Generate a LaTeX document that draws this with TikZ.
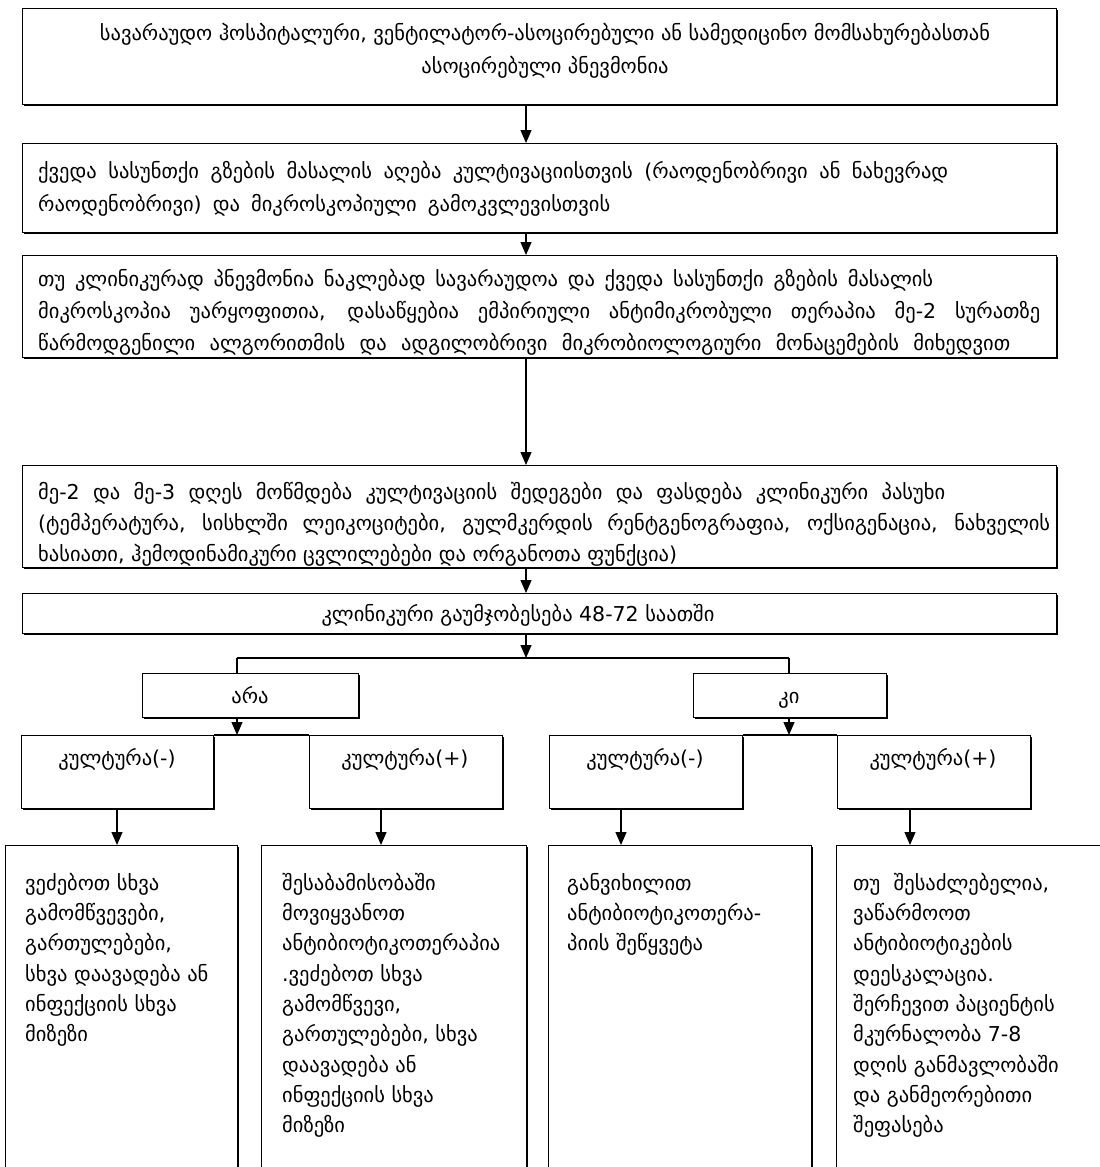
\documentclass[tikz,border=0pt]{standalone}
\usepackage{fontspec}
\newfontfamily\geo{DejaVu Sans}
\usetikzlibrary{arrows.meta,shadows}
\tikzset{
  box/.style={draw, line width=1.2pt, fill=white, inner sep=0pt, anchor=north west,
    drop shadow={shadow xshift=1.2pt, shadow yshift=-1.2pt, fill=black, opacity=1}},
  txt/.style={inner sep=0pt, anchor=north west, align=left, font=\geo\fontsize{20.5}{#1}\selectfont},
  txt/.default=30,
  ctxt/.style={txt=#1, anchor=north, align=center},
  ctxt/.default=30,
  arr/.style={line width=1.2pt, -{Triangle[width=11pt,length=13pt]}},
  ln/.style={line width=1.2pt},
}
\newcommand{\st}{\rule{0pt}{20pt}}
\newcommand{\jl}[2]{\makebox[#1pt][s]{#2}}
\begin{document}
\begin{tikzpicture}[x=1pt,y=-1pt]
\useasboundingbox (0,0) rectangle (1100,1167);
\clip (0,0) rectangle (1100,1167);
\coordinate (mx) at (526,0);
% main boxes
\node[box, minimum width=1034pt, minimum height=96pt] (b1) at (22,8) {};
\node[box, minimum width=1034pt, minimum height=89pt] (b2) at (22,143) {};
\node[box, minimum width=1034pt, minimum height=102pt] (b3) at (22,255) {};
\node[box, minimum width=1034pt, minimum height=102pt] (b4) at (22,465) {};
\node[box, minimum width=1034pt, minimum height=40pt] (b5) at (22,593) {};
\node[ctxt=33] (t1) at (545,20) {\st სავარაუდო ჰოსპიტალური, ვენტილატორ-ასოცირებული ან სამედიცინო მომსახურებასთან\\ასოცირებული პნევმონია};
\node[txt=33] (t2) at (38,158) {\st\jl{910}{ქვედა სასუნთქი გზების მასალის აღება კულტივაციისთვის (რაოდენობრივი ან ნახევრად}\\\jl{572}{რაოდენობრივი) და მიკროსკოპიული გამოკვლევისთვის}};
\node[txt=32] (t3) at (38,266.5) {\st\jl{895}{თუ კლინიკურად პნევმონია ნაკლებად სავარაუდოა და ქვედა სასუნთქი გზების მასალის}\\\jl{1002}{მიკროსკოპია უარყოფითია, დასაწყებია ემპირიული ანტიმიკრობული თერაპია მე-2 სურათზე}\\\jl{972}{წარმოდგენილი ალგორითმის და ადგილობრივი მიკრობიოლოგიური მონაცემების მიხედვით}};
\node[txt=31] (t4) at (38,479) {\st\jl{907}{მე-2 და მე-3 დღეს მოწმდება კულტივაციის შედეგები და ფასდება კლინიკური პასუხი}\\\jl{1012}{(ტემპერატურა, სისხლში ლეიკოციტები, გულმკერდის რენტგენოგრაფია, ოქსიგენაცია, ნახველის}\\ხასიათი, ჰემოდინამიკური ცვლილებები და ორგანოთა ფუნქცია)};
\node[ctxt] (t5) at (518,601.5) {\st კლინიკური გაუმჯობესება 48-72 საათში};
% yes / no
\node[box, minimum width=216pt, minimum height=44pt] (ara) at (142,673) {};
\node[box, minimum width=193pt, minimum height=44pt] (ki) at (693,673) {};
\node[ctxt] (tara) at (250,683) {\st არა};
\node[ctxt] (tki) at (789,683) {\st კი};
% culture boxes
\node[box, minimum width=192pt, minimum height=73pt] (c1) at (21,735) {};
\node[box, minimum width=193pt, minimum height=73pt] (c2) at (309,735) {};
\node[box, minimum width=193pt, minimum height=73pt] (c3) at (549,735) {};
\node[box, minimum width=193pt, minimum height=73pt] (c4) at (837,735) {};
\node[ctxt] (tc1) at (117,745) {\st კულტურა(-)};
\node[ctxt] (tc2) at (405,745) {\st კულტურა(+)};
\node[ctxt] (tc3) at (645,745) {\st კულტურა(-)};
\node[ctxt] (tc4) at (933,745) {\st კულტურა(+)};
% bottom boxes
\node[box, minimum width=232pt, minimum height=360pt] (bA) at (5,845) {};
\node[box, minimum width=265pt, minimum height=360pt] (bB) at (261,845) {};
\node[box, minimum width=263pt, minimum height=360pt] (bC) at (548,845) {};
\node[box, minimum width=300pt, minimum height=360pt] (bD) at (836,845) {};
\node[txt=30.3] (tA) at (25,870) {\st ვეძებოთ სხვა\\გამომწვევები,\\გართულებები,\\სხვა დაავადება ან\\ინფექციის სხვა\\მიზეზი};
\node[txt=30.3] (tB) at (282,870) {\st შესაბამისობაში\\მოვიყვანოთ\\ანტიბიოტიკოთერაპია\\.ვეძებოთ სხვა\\გამომწვევი,\\გართულებები, სხვა\\დაავადება ან\\ინფექციის სხვა\\მიზეზი};
\node[txt=30.3] (tC) at (567,870) {\st განვიხილით\\ანტიბიოტიკოთერა-\\პიის შეწყვეტა};
\node[txt=30.3] (tD) at (853,870) {\st\jl{196}{თუ შესაძლებელია,}\\ვაწარმოოთ\\ანტიბიოტიკების\\დეესკალაცია.\\შერჩევით პაციენტის\\მკურნალობა 7-8\\დღის განმავლობაში\\და განმეორებითი\\შეფასება};
% connectors
\draw[arr] (b1.south -| mx) -- (b2.north -| mx);
\draw[arr] (b2.south -| mx) -- (b3.north -| mx);
\draw[arr] (b3.south -| mx) -- (b4.north -| mx);
\draw[arr] (b4.south -| mx) -- (b5.north -| mx);
\coordinate (br) at (526,658);
\coordinate (bl) at (237,658);
\coordinate (brr) at (789,658);
\draw[arr] (b5.south -| mx) -- (br);
\draw[ln] (bl) -- (brr);
\draw[ln] (bl) -- (bl |- ara.north);
\draw[ln] (brr) -- (brr |- ki.north);
\draw[ln] (c1.north east) -- (c2.north west);
\draw[ln] (c3.north east) -- (c4.north west);
\draw[arr] (ara.south -| bl) -- (c1.north -| bl);
\draw[arr] (ki.south -| brr) -- (c3.north -| brr);
\coordinate (x1) at (117,0);
\coordinate (x2) at (381,0);
\coordinate (x3) at (621,0);
\coordinate (x4) at (910,0);
\draw[arr] (c1.south -| x1) -- (bA.north -| x1);
\draw[arr] (c2.south -| x2) -- (bB.north -| x2);
\draw[arr] (c3.south -| x3) -- (bC.north -| x3);
\draw[arr] (c4.south -| x4) -- (bD.north -| x4);
\end{tikzpicture}
\end{document}
